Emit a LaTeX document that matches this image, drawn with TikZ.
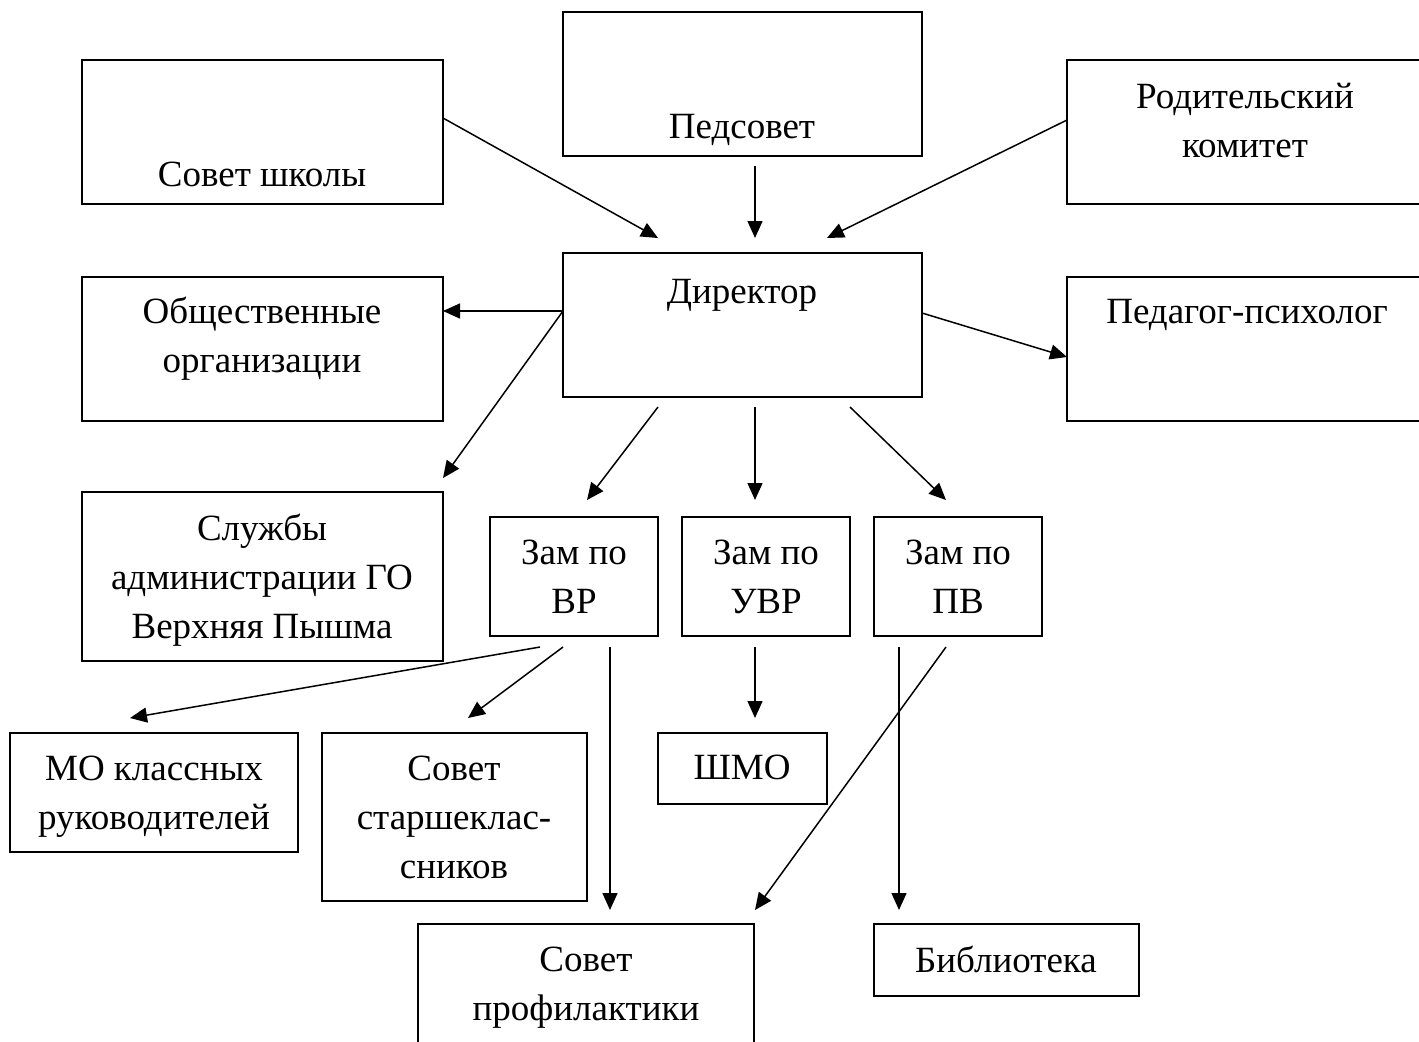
\documentclass[tikz,border=0pt]{standalone}
\usepackage{fontspec}
\setmainfont{Liberation Serif}
\usetikzlibrary{arrows.meta,fit}

\begin{document}
\begin{tikzpicture}[x=0.5pt,y=-0.5pt,
  box/.style={draw=drawColor,line width=1pt,inner sep=0pt,outer sep=0pt},
  txt/.style={text=drawColor,anchor=base,align=center,inner sep=0pt,outer sep=0pt,
    font=\fontsize{18.5}{24.5}\selectfont},
  arr/.style={draw=drawColor,line width=0.75pt,-{Triangle[length=8.5pt,width=7.5pt]}}]
\definecolor{drawColor}{RGB}{0,0,0}
\clip (0,0) rectangle (1419,1041);

% boxes
\node[box,fit={(82,60) (443,204)}] (sovet) {};
\node[box,fit={(563,12) (922,156)}] (ped) {};
\node[box,fit={(1067,60) (1440,204)}] (rodit) {};
\node[box,fit={(563,253) (922,397)}] (dir) {};
\node[box,fit={(82,277) (443,421)}] (obsh) {};
\node[box,fit={(1067,277) (1440,421)}] (psy) {};
\node[box,fit={(82,492) (443,661)}] (sluzh) {};
\node[box,fit={(490,517) (658,636)}] (zamVR) {};
\node[box,fit={(682,517) (850,636)}] (zamUVR) {};
\node[box,fit={(874,517) (1042,636)}] (zamPV) {};
\node[box,fit={(10,733) (298,852)}] (mo) {};
\node[box,fit={(322,733) (587,901)}] (starsh) {};
\node[box,fit={(658,733) (827,804)}] (shmo) {};
\node[box,fit={(418,924) (754,1080)}] (prof) {};
\node[box,fit={(874,924) (1139,996)}] (bib) {};

% texts (base = last line)
\node[txt] (sovetT) at (262,186) {Совет школы};
\node[txt] (pedT) at (742,138) {Педсовет};
\node[txt] (roditT) at (1245,157) {Родительский\\комитет};
\node[txt] (dirT) at (742,303) {Директор};
\node[txt] (obshT) at (262,372) {Общественные\\организации};
\node[txt] (psyT) at (1247,323) {Педагог-психолог};
\node[txt] (sluzhT) at (262,638) {Службы\\администрации ГО\\Верхняя Пышма};
\node[txt] (zamVRT) at (574,613) {Зам по\\ВР};
\node[txt] (zamUVRT) at (766,613) {Зам по\\УВР};
\node[txt] (zamPVT) at (958,613) {Зам по\\ПВ};
\node[txt] (moT) at (154,829) {МО классных\\руководителей};
\node[txt] (starshT) at (454,878) {Совет\\старшеклас-\\сников};
\node[txt] (shmoT) at (742,779) {ШМО};
\node[txt] (profT) at (586,1020) {Совет\\профилактики};
\node[txt] (bibT) at (1006,972) {Библиотека};

% arrow ends
\coordinate (dirIn1) at (658,238);
\coordinate (pedOut) at (755,166);
\coordinate (dirIn2) at (755,238);
\coordinate (dirIn3) at (827,238);
\coordinate (dirW) at ([yshift=7pt]dir.west);
\coordinate (sluzhIn) at (443,478);
\coordinate (dirOut1) at (658,407);
\coordinate (dirOut2) at (755,407);
\coordinate (dirOut3) at (850,407);
\coordinate (zamVRIn) at (587,500);
\coordinate (zamUVRIn) at (755,500);
\coordinate (zamPVIn) at (946,500);
\coordinate (vrOut1) at (540,647);
\coordinate (vrOut2) at (563,647);
\coordinate (vrOut3) at (610,647);
\coordinate (moIn) at (130,718);
\coordinate (starshIn) at (468,718);
\coordinate (profIn1) at (610,910);
\coordinate (uvrOut) at (755,647);
\coordinate (shmoIn) at (755,718);
\coordinate (pvOut1) at (946,647);
\coordinate (pvOut2) at (899,647);
\coordinate (profIn2) at (755,910);
\coordinate (bibIn) at (899,910);

% connectors
\draw[arr] ([yshift=7pt]sovet.east) -- (dirIn1);
\draw[arr] (pedOut) -- (dirIn2);
\draw[arr] ([yshift=6pt]rodit.west) -- (dirIn3);
\draw[arr] (dirW) -- (dirW -| obsh.east);
\draw[arr] (dirW) -- (sluzhIn);
\draw[arr] ([yshift=6pt]dir.east) -- ([yshift=-4pt]psy.west);
\draw[arr] (dirOut1) -- (zamVRIn);
\draw[arr] (dirOut2) -- (zamUVRIn);
\draw[arr] (dirOut3) -- (zamPVIn);
\draw[arr] (vrOut1) -- (moIn);
\draw[arr] (vrOut2) -- (starshIn);
\draw[arr] (vrOut3) -- (profIn1);
\draw[arr] (uvrOut) -- (shmoIn);
\draw[arr] (pvOut1) -- (profIn2);
\draw[arr] (pvOut2) -- (bibIn);
\end{tikzpicture}
\end{document}
